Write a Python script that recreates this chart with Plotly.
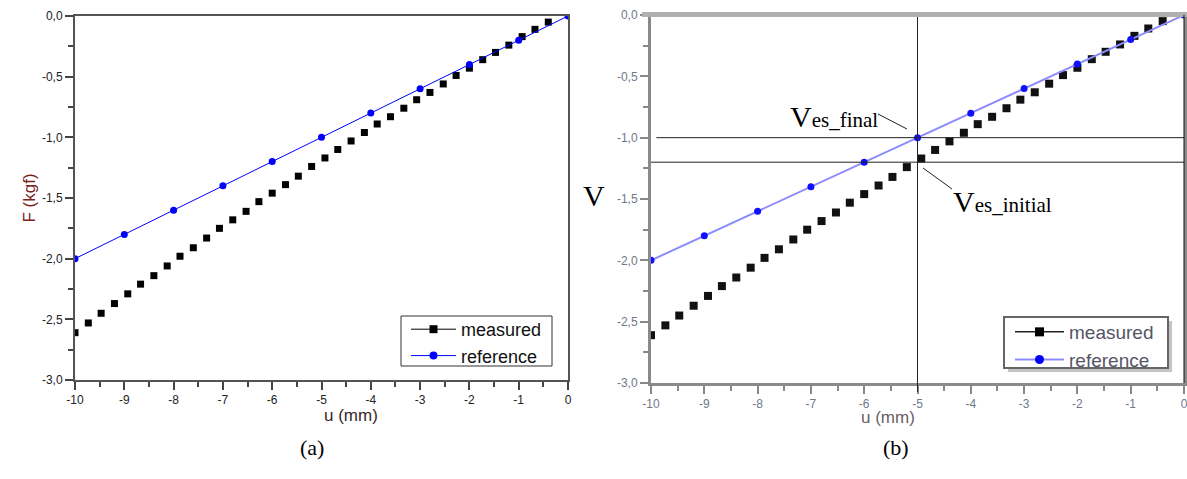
import plotly.graph_objects as go

# ---------------- data ----------------
u_measured = [-10.0, -9.73, -9.47, -9.2, -8.93, -8.67, -8.4, -8.13, -7.87, -7.6,
              -7.33, -7.07, -6.8, -6.53, -6.27, -6.0, -5.73, -5.47, -5.2, -4.93,
              -4.67, -4.4, -4.13, -3.87, -3.6, -3.33, -3.07, -2.8, -2.53, -2.27,
              -2.0, -1.73, -1.47, -1.2, -0.93, -0.67, -0.4]
f_measured = [-2.61, -2.53, -2.45, -2.37, -2.29, -2.21, -2.14, -2.06, -1.98, -1.91,
              -1.83, -1.75, -1.68, -1.61, -1.53, -1.46, -1.39, -1.32, -1.24, -1.17,
              -1.10, -1.03, -0.96, -0.89, -0.83, -0.76, -0.69, -0.63, -0.56, -0.49,
              -0.43, -0.36, -0.30, -0.24, -0.17, -0.11, -0.05]
u_reference = [-10, -9, -8, -7, -6, -5, -4, -3, -2, -1, 0]
f_reference = [-2.0, -1.8, -1.6, -1.4, -1.2, -1.0, -0.8, -0.6, -0.4, -0.2, 0.0]

x_tickvals = [-10, -9, -8, -7, -6, -5, -4, -3, -2, -1, 0]
x_ticktext = ["-10", "-9", "-8", "-7", "-6", "-5", "-4", "-3", "-2", "-1", "0"]
y_tickvals = [-3.0, -2.5, -2.0, -1.5, -1.0, -0.5, 0.0]
y_ticktext = ["-3,0", "-2,5", "-2,0", "-1,5", "-1,0", "-0,5", "0,0"]
x_minor = [-9.5, -8.5, -7.5, -6.5, -5.5, -4.5, -3.5, -2.5, -1.5, -0.5]
y_minor = [-2.75, -2.25, -1.75, -1.25, -0.75, -0.25]

v_final = -1.0
v_initial = -1.2
u_cross = -5

W, H = 1187, 479
def px(x): return x / W
def py(y): return 1 - y / H

fig = go.Figure()

# ---------- panel (a) ----------
fig.add_trace(go.Scatter(x=u_measured, y=f_measured, mode="markers",
                         marker=dict(symbol="square", size=7, color="black"),
                         xaxis="x", yaxis="y", showlegend=False))
fig.add_trace(go.Scatter(x=u_reference, y=f_reference, mode="lines+markers",
                         line=dict(color="#0000ff", width=1),
                         marker=dict(symbol="circle", size=7, color="#0000ff"),
                         xaxis="x", yaxis="y", showlegend=False))
fig.add_trace(go.Scatter(x=[None], y=[None], mode="lines+markers", name="measured",
                         line=dict(color="black", width=1),
                         marker=dict(symbol="square", size=8, color="black"),
                         xaxis="x", yaxis="y", legend="legend"))
fig.add_trace(go.Scatter(x=[None], y=[None], mode="lines+markers", name="reference",
                         line=dict(color="#0000ff", width=1),
                         marker=dict(symbol="circle", size=8, color="#0000ff"),
                         xaxis="x", yaxis="y", legend="legend"))

# ---------- panel (b) ----------
fig.add_trace(go.Scatter(x=u_measured, y=f_measured, mode="markers",
                         marker=dict(symbol="square", size=8, color="#111111"),
                         xaxis="x2", yaxis="y2", showlegend=False))
fig.add_trace(go.Scatter(x=u_reference, y=f_reference, mode="lines+markers",
                         line=dict(color="#8c8cff", width=2),
                         marker=dict(symbol="circle", size=7, color="#1010ff"),
                         xaxis="x2", yaxis="y2", showlegend=False))
fig.add_trace(go.Scatter(x=[None], y=[None], mode="lines+markers", name="measured",
                         line=dict(color="#222222", width=1.5),
                         marker=dict(symbol="square", size=9, color="black"),
                         xaxis="x2", yaxis="y2", legend="legend2"))
fig.add_trace(go.Scatter(x=[None], y=[None], mode="lines+markers", name="reference",
                         line=dict(color="#8c8cff", width=2),
                         marker=dict(symbol="circle", size=9, color="#0000ff"),
                         xaxis="x2", yaxis="y2", legend="legend2"))

axis_font_a = dict(family="Liberation Sans, Arial", size=12, color="#222222")
axis_font_b = dict(family="Liberation Sans, Arial", size=12, color="#707888")

def xaxis(domain, lc, lw, tc, font, anchor):
    return dict(domain=domain, range=[-10, 0], anchor=anchor, automargin=False,
                tickmode="array", tickvals=x_tickvals, ticktext=x_ticktext,
                ticks="outside", ticklen=8, tickwidth=1.5, tickcolor=tc,
                ticklabeloverflow="allow",
                showline=True, linecolor=lc, linewidth=lw, mirror=True,
                showgrid=False, zeroline=False, tickfont=font,
                minor=dict(tickmode="array", tickvals=x_minor, ticks="outside",
                           ticklen=5, tickwidth=1.5, tickcolor=tc, showgrid=False))

def yaxis(domain, lc, lw, tc, font, anchor):
    return dict(domain=domain, range=[-3, 0], anchor=anchor, automargin=False,
                tickmode="array", tickvals=y_tickvals, ticktext=y_ticktext,
                ticks="outside", ticklen=8, tickwidth=1.5, tickcolor=tc,
                ticklabeloverflow="allow",
                showline=True, linecolor=lc, linewidth=lw, mirror=True,
                showgrid=False, zeroline=False, tickfont=font,
                minor=dict(tickmode="array", tickvals=y_minor, ticks="outside",
                           ticklen=5, tickwidth=1.5, tickcolor=tc, showgrid=False))

fig.update_layout(
    width=W, height=H,
    margin=dict(l=0, r=0, t=0, b=0, autoexpand=False),
    paper_bgcolor="white", plot_bgcolor="white",
    xaxis=xaxis([px(75), px(568)], "#555555", 2, "#444444", axis_font_a, "y"),
    yaxis=yaxis([py(380), py(16)], "#555555", 2, "#444444", axis_font_a, "x"),
    xaxis2=xaxis([px(651), px(1184)], "#8a8a8a", 3, "#888888", axis_font_b, "y2"),
    yaxis2=yaxis([py(383), py(15)], "#8a8a8a", 3, "#888888", axis_font_b, "x2"),
    legend=dict(x=px(406), y=py(311), xanchor="left", yanchor="top",
                bgcolor="rgba(0,0,0,0)", borderwidth=0,
                font=dict(family="Liberation Sans, Arial", size=18, color="#111111"),
                itemwidth=45, tracegroupgap=0),
    legend2=dict(x=px(1010), y=py(313), xanchor="left", yanchor="top",
                 bgcolor="rgba(0,0,0,0)", borderwidth=0,
                 font=dict(family="Liberation Sans, Arial", size=19, color="#555566"),
                 itemwidth=49, tracegroupgap=0),
    showlegend=True,
)

shapes = []
# panel (b) helper lines
shapes.append(dict(type="line", xref="x2", yref="y2", x0=-9.9, x1=0, y0=v_final, y1=v_final,
                   line=dict(color="#222222", width=1)))
shapes.append(dict(type="line", xref="x2", yref="y2", x0=-10, x1=0, y0=v_initial, y1=v_initial,
                   line=dict(color="#222222", width=1)))
shapes.append(dict(type="line", xref="x2", yref="paper", x0=u_cross, x1=u_cross,
                   y0=py(392), y1=py(15), line=dict(color="#222222", width=1)))
# thick grey top frame and black right edge of panel (b)
shapes.append(dict(type="rect", xref="paper", yref="paper", x0=px(642), x1=px(1187),
                   y0=py(17), y1=py(12), fillcolor="#b0b0b0", line=dict(width=0), layer="above"))
shapes.append(dict(type="line", xref="paper", yref="paper", x0=px(1184), x1=px(1184),
                   y0=py(383), y1=py(15), line=dict(color="#111111", width=1), layer="above"))
# legend boxes
shapes.append(dict(type="rect", xref="paper", yref="paper", x0=px(401), x1=px(552),
                   y0=py(366), y1=py(316), fillcolor="white",
                   line=dict(color="#333333", width=1), layer="above"))
shapes.append(dict(type="rect", xref="paper", yref="paper", x0=px(1008), x1=px(1172),
                   y0=py(372), y1=py(321), fillcolor="#c4c4c4", line=dict(width=0), layer="above"))
shapes.append(dict(type="rect", xref="paper", yref="paper", x0=px(1004), x1=px(1168),
                   y0=py(368), y1=py(317), fillcolor="white",
                   line=dict(color="#666666", width=2), layer="above"))
# leader lines
shapes.append(dict(type="line", xref="paper", yref="paper", x0=px(878), y0=py(114),
                   x1=px(907), y1=py(129), line=dict(color="#222222", width=1)))
shapes.append(dict(type="line", xref="paper", yref="paper", x0=px(923), y0=py(168),
                   x1=px(952), y1=py(189), line=dict(color="#222222", width=1)))
fig.update_layout(shapes=shapes)

serif = "Liberation Serif, Times New Roman"
ann = []
ann.append(dict(text="F (kgf)", x=px(17), y=py(198), xref="paper", yref="paper",
                textangle=-90, showarrow=False,
                font=dict(family="Liberation Sans, Arial", size=17, color="#7a2424")))
ann.append(dict(text="u (mm)", x=px(322), y=py(427), xref="paper", yref="paper",
                showarrow=False,
                font=dict(family="Liberation Sans, Arial", size=17, color="#3a2626")))
ann.append(dict(text="u (mm)", x=px(917), y=py(429), xref="paper", yref="paper",
                showarrow=False,
                font=dict(family="Liberation Sans, Arial", size=17, color="#6b5e66")))
ann.append(dict(text="(a)", x=px(298), y=py(462), xref="paper", yref="paper",
                showarrow=False, font=dict(family=serif, size=22, color="black")))
ann.append(dict(text="(b)", x=px(911), y=py(462), xref="paper", yref="paper",
                showarrow=False, font=dict(family=serif, size=22, color="black")))
ann.append(dict(text="V", x=px(594), y=py(195), xref="paper", yref="paper",
                showarrow=False, font=dict(family=serif, size=30, color="black")))
ann.append(dict(text="V<span style='font-size:21px'>es_final</span>",
                x=px(788), y=py(98), xref="paper", yref="paper", xanchor="left",
                showarrow=False, font=dict(family=serif, size=30, color="black")))
ann.append(dict(text="V<span style='font-size:21px'>es_initial</span>",
                x=px(951), y=py(201), xref="paper", yref="paper", xanchor="left",
                showarrow=False, font=dict(family=serif, size=30, color="black")))
fig.update_layout(annotations=ann)

fig.write_html("out.html",
               config={"displayModeBar": False},
               post_script="document.body.style.margin='0';document.body.style.overflow='hidden';")
